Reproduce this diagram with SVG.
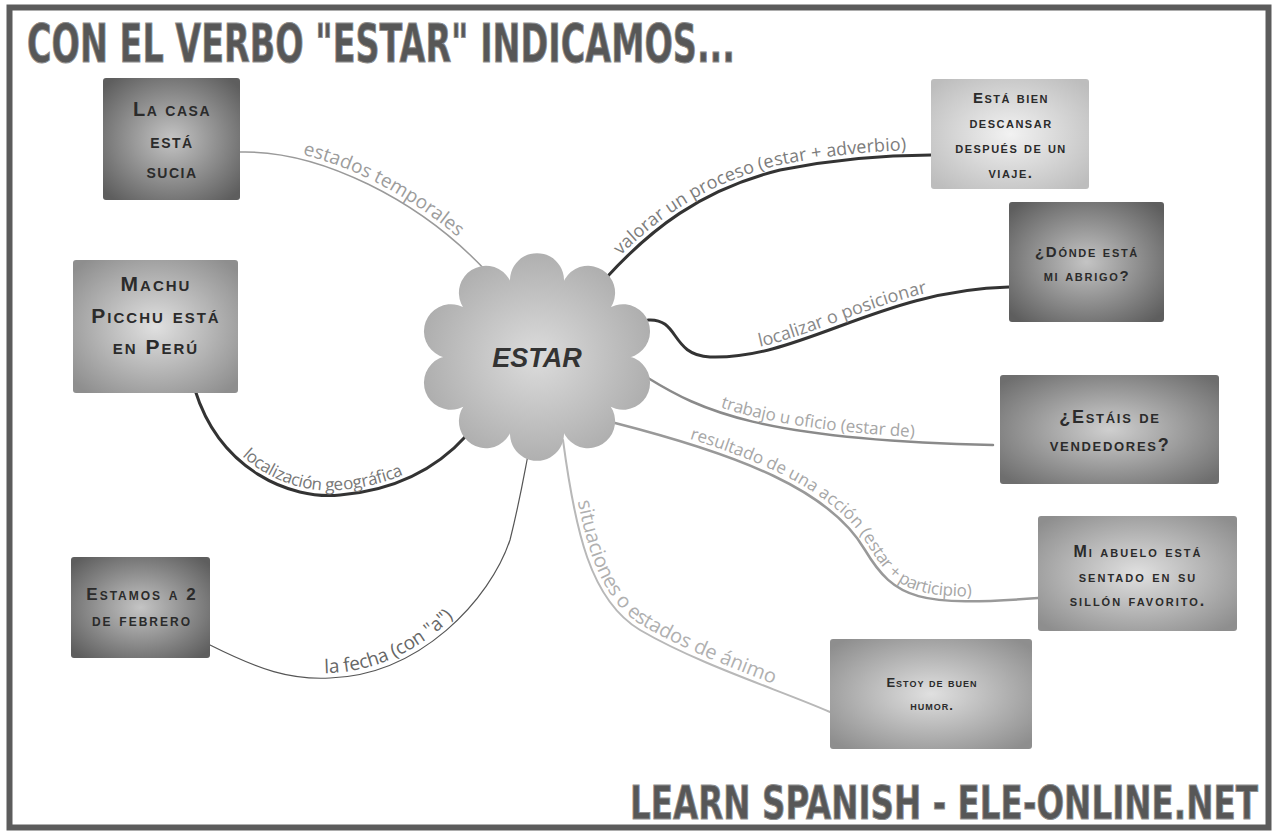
<svg xmlns="http://www.w3.org/2000/svg" xmlns:xlink="http://www.w3.org/1999/xlink" width="1278" height="831" viewBox="0 0 1278 831">
<style>
.node-text{font-family:"Liberation Sans","DejaVu Sans",sans-serif;font-weight:bold;font-variant:small-caps;fill:#2b2b2b;text-anchor:middle}
.lbl{font-family:"Open Sans","DejaVu Sans",sans-serif;}
.heading{font-family:"DejaVu Sans Condensed","DejaVu Sans",sans-serif;font-weight:bold;fill:#575757;stroke:#8f8f8f;stroke-width:1}
.conn{fill:none;stroke-linecap:round}
</style>
<defs>
<radialGradient id="gDark" cx="50%" cy="50%" r="65%"><stop offset="0" stop-color="#c4c4c4"/><stop offset="1" stop-color="#5e5e5e"/></radialGradient>
<radialGradient id="gDark2" cx="50%" cy="50%" r="65%"><stop offset="0" stop-color="#cfcfcf"/><stop offset="1" stop-color="#6e6e6e"/></radialGradient>
<radialGradient id="gMid" cx="50%" cy="50%" r="65%"><stop offset="0" stop-color="#e0e0e0"/><stop offset="1" stop-color="#8e8e8e"/></radialGradient>
<radialGradient id="gLight" cx="50%" cy="50%" r="65%"><stop offset="0" stop-color="#f2f2f2"/><stop offset="1" stop-color="#bdbdbd"/></radialGradient>
<radialGradient id="gCloud" cx="50%" cy="50%" r="55%"><stop offset="0" stop-color="#dcdcdc"/><stop offset="1" stop-color="#ababab"/></radialGradient>
<path id="p1" d="M240,152 C320,150 420,200 487,272"/>
<path id="p2" d="M607,277 C650,230 700,190 780,170 C840,158 890,155 931,155"/>
<path id="p3" d="M648,320 C680,318 670,355 710,357 C800,360 880,290 1009,287"/>
<path id="p4" d="M648,378 C700,410 760,440 993,445"/>
<path id="p5" d="M615,423 C740,455 830,490 865,550 C895,600 920,607 1038,598"/>
<path id="p6" d="M563,440 C575,530 590,600 640,630 C700,665 780,690 830,712"/>
<path id="p7" d="M195,390 C220,470 290,500 340,495 C400,490 440,465 467,435"/>
<path id="p8" d="M210,645 C260,670 290,680 330,678 C420,675 490,600 510,540 C520,500 525,470 528,455"/>
</defs>
<rect x="0" y="0" width="1278" height="831" fill="#ffffff"/>
<rect x="9.5" y="7.5" width="1259" height="820" fill="none" stroke="#5c5c5c" stroke-width="6"/>
<text class="heading" x="27" y="62" font-size="54" textLength="708" lengthAdjust="spacingAndGlyphs">CON EL VERBO "ESTAR" INDICAMOS...</text>
<text class="heading" x="630" y="819" font-size="47" textLength="628" lengthAdjust="spacingAndGlyphs">LEARN SPANISH - ELE-ONLINE.NET</text>

<g id="connectors">
<use xlink:href="#p1" class="conn" stroke="#9a9a9a" stroke-width="1.5"/>
<use xlink:href="#p2" class="conn" stroke="#333333" stroke-width="3"/>
<use xlink:href="#p3" class="conn" stroke="#333333" stroke-width="3"/>
<use xlink:href="#p4" class="conn" stroke="#8a8a8a" stroke-width="2.5"/>
<use xlink:href="#p5" class="conn" stroke="#999999" stroke-width="2.5"/>
<use xlink:href="#p6" class="conn" stroke="#b8b8b8" stroke-width="2"/>
<use xlink:href="#p7" class="conn" stroke="#333333" stroke-width="3"/>
<use xlink:href="#p8" class="conn" stroke="#555555" stroke-width="1.2"/>
<text class="lbl" font-size="19" fill="#9c9c9c" dy="-5"><textPath xlink:href="#p1" startOffset="53%" text-anchor="middle">estados temporales</textPath></text>
<text class="lbl" font-size="18" fill="#7c7c7c" dy="-5"><textPath xlink:href="#p2" startOffset="50%" text-anchor="middle">valorar un proceso (estar + adverbio)</textPath></text>
<text class="lbl" font-size="18" fill="#888888" dy="-5"><textPath xlink:href="#p3" startOffset="56%" text-anchor="middle">localizar o posicionar</textPath></text>
<text class="lbl" font-size="17" fill="#a6a6a6" dy="-5"><textPath xlink:href="#p4" startOffset="50%" text-anchor="middle">trabajo u oficio (estar de)</textPath></text>
<text class="lbl" font-size="17" fill="#a6a6a6" dy="-5"><textPath xlink:href="#p5" startOffset="51%" text-anchor="middle">resultado de una acción (estar + participio)</textPath></text>
<text class="lbl" font-size="20" fill="#b0b0b0" dy="-5"><textPath xlink:href="#p6" startOffset="50%" text-anchor="middle">situaciones o estados de ánimo</textPath></text>
<text class="lbl" font-size="17" fill="#777777" dy="-5"><textPath xlink:href="#p7" startOffset="51%" text-anchor="middle">localización geográfica</textPath></text>
<text class="lbl" font-size="19" fill="#666666" dy="-5"><textPath xlink:href="#p8" startOffset="43%" text-anchor="middle">la fecha (con "a")</textPath></text>
</g>

<g id="estar">
<path d="M615,357 A27,27 0 1 1 600.1,397 A27,27 0 1 1 561.1,421.7 A27,27 0 1 1 512.9,421.7 A27,27 0 1 1 473.9,397 A27,27 0 1 1 459,357 A27,27 0 1 1 473.9,317 A27,27 0 1 1 512.9,292.3 A27,27 0 1 1 561.1,292.3 A27,27 0 1 1 600.1,317 A27,27 0 1 1 615,357 Z" fill="url(#gCloud)"/>
<text x="537" y="367" font-family="Liberation Sans, sans-serif" font-weight="bold" font-style="italic" font-size="27" fill="#333" text-anchor="middle">ESTAR</text>
</g>

<g id="n-casa">
<rect x="103" y="78" width="137" height="122" rx="3" fill="url(#gDark)"/>
<text class="node-text" font-size="20" letter-spacing="1.5"><tspan x="172" y="116">La casa</tspan><tspan x="172" y="148">está</tspan><tspan x="172" y="178">sucia</tspan></text>
</g>
<g id="n-machu">
<rect x="73" y="260" width="165" height="133" rx="3" fill="url(#gMid)"/>
<text class="node-text" font-size="21" letter-spacing="2"><tspan x="156" y="291">Machu</tspan><tspan x="156" y="323">Picchu está</tspan><tspan x="156" y="354">en Perú</tspan></text>
</g>
<g id="n-fecha">
<rect x="71" y="557" width="139" height="101" rx="3" fill="url(#gDark)"/>
<text class="node-text" font-size="17" letter-spacing="2"><tspan x="142" y="600">Estamos a 2</tspan><tspan x="142" y="626">de febrero</tspan></text>
</g>
<g id="n-descansar">
<rect x="931" y="79" width="158" height="110" rx="3" fill="url(#gLight)"/>
<text class="node-text" font-size="15" letter-spacing="1.5"><tspan x="1011" y="103">Está bien</tspan><tspan x="1011" y="128">descansar</tspan><tspan x="1011" y="153">después de un</tspan><tspan x="1011" y="178">viaje.</tspan></text>
</g>
<g id="n-abrigo">
<rect x="1009" y="202" width="155" height="120" rx="3" fill="url(#gDark)"/>
<text class="node-text" font-size="15" letter-spacing="1.7"><tspan x="1087" y="257">¿Dónde está</tspan><tspan x="1087" y="281">mi abrigo?</tspan></text>
</g>
<g id="n-vendedores">
<rect x="1000" y="375" width="219" height="109" rx="3" fill="url(#gDark2)"/>
<text class="node-text" font-size="18" letter-spacing="1.7"><tspan x="1110" y="423">¿Estáis de</tspan><tspan x="1110" y="451">vendedores?</tspan></text>
</g>
<g id="n-abuelo">
<rect x="1038" y="516" width="199" height="115" rx="3" fill="url(#gMid)"/>
<text class="node-text" font-size="16" letter-spacing="2"><tspan x="1138" y="557">Mi abuelo está</tspan><tspan x="1138" y="582">sentado en su</tspan><tspan x="1138" y="606">sillón favorito.</tspan></text>
</g>
<g id="n-humor">
<rect x="830" y="639" width="202" height="110" rx="3" fill="url(#gMid)"/>
<text class="node-text" font-size="13" letter-spacing="1"><tspan x="932" y="687">Estoy de buen</tspan><tspan x="932" y="710">humor.</tspan></text>
</g>
</svg>
